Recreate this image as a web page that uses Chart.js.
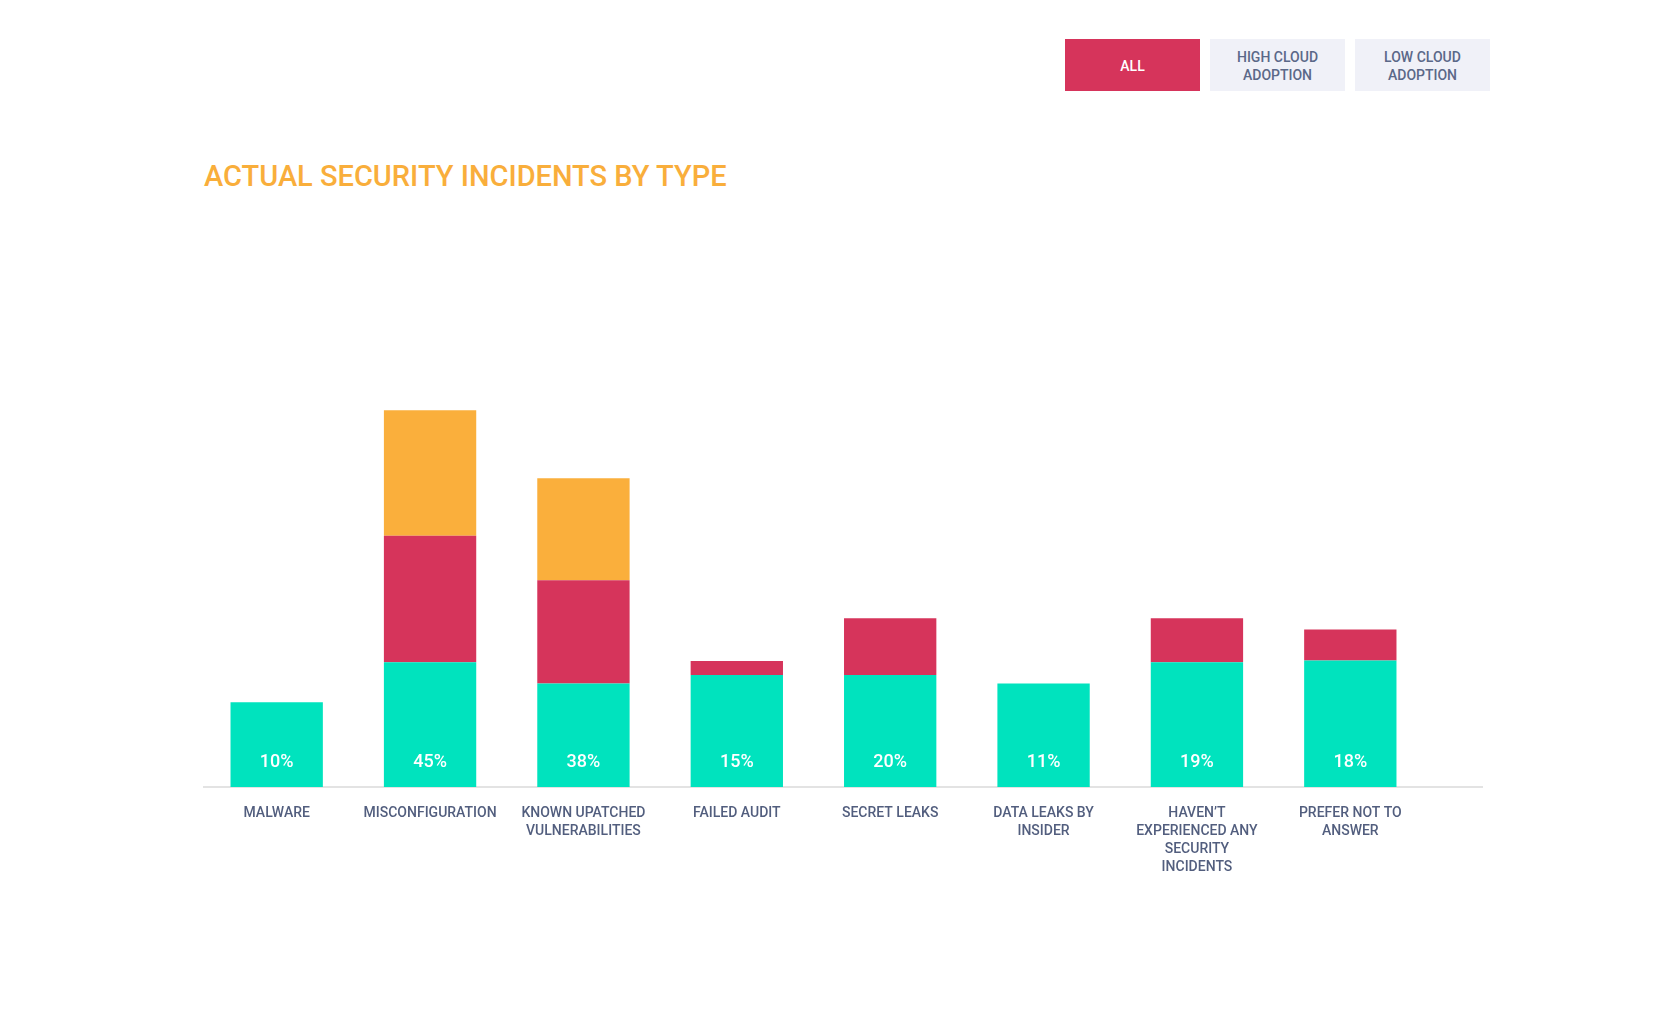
<!DOCTYPE html>
<html lang="en">
<head>
<meta charset="utf-8">
<title>Actual Security Incidents by Type</title>
<script src="https://cdn.jsdelivr.net/npm/chart.js@4.4.1/dist/chart.umd.min.js"></script>
<style>
  html, body { margin: 0; padding: 0; background: #fff; }
  body { width: 1677px; height: 1017px; position: relative; overflow: hidden; font-family: Roboto, "Noto Sans", sans-serif; }
  #chart { position: absolute; left: 0; top: 0; }
  .btn {
    position: absolute; top: 39px; width: 135px; height: 52px;
    display: flex; align-items: center; justify-content: center; text-align: center;
    font-size: 14px; font-weight: 500; line-height: 18px; padding-top: 2px; box-sizing: border-box;
    background: #f0f1f8; color: #5b6888;
  }
  .btn.active { background: #d6345b; color: #fff; }
  h1 {
    position: absolute; left: 204px; top: 162px; margin: 0;
    font-size: 29px; font-weight: 500; line-height: 29px; color: #f9ae3b;
    white-space: nowrap;
  }
</style>
</head>
<body>
<div class="btn active" style="left:1065px">ALL</div>
<div class="btn" style="left:1210px">HIGH CLOUD<br>ADOPTION</div>
<div class="btn" style="left:1355px">LOW CLOUD<br>ADOPTION</div>
<h1>ACTUAL SECURITY INCIDENTS BY TYPE</h1>
<canvas id="chart" width="1677" height="1017"></canvas>

<script>
// === Data ===
const categories = [
  'MALWARE',
  'MISCONFIGURATION',
  ['KNOWN UPATCHED', 'VULNERABILITIES'],
  'FAILED AUDIT',
  'SECRET LEAKS',
  ['DATA LEAKS BY', 'INSIDER'],
  ['HAVEN\u2019T', 'EXPERIENCED ANY', 'SECURITY', 'INCIDENTS'],
  ['PREFER NOT TO', 'ANSWER']
];
// printed percentages inside the bars
const pctLabels = [10, 45, 38, 15, 20, 11, 19, 18];
// segment heights (y scale 0-100)
const tealValues   = [21.2, 31.2, 25.9, 28.0, 28.0, 25.9, 31.2, 31.6];
const redValues    = [0, 31.6, 25.8, 3.5, 14.2, 0, 11.0, 7.8];
const orangeValues = [0, 31.4, 25.5, 0, 0, 0, 0, 0];

const TEAL = '#00e3be';
const RED = '#d6345b';
const ORANGE = '#faaf3c';

// === Plugins ===
const baseline = {
  id: 'baseline',
  beforeDatasetsDraw(chart) {
    const {ctx, chartArea, scales} = chart;
    const y = scales.y.getPixelForValue(0);
    ctx.save();
    ctx.strokeStyle = '#e3e3e3';
    ctx.lineWidth = 2;
    ctx.beginPath();
    ctx.moveTo(chartArea.left + 3, y);
    ctx.lineTo(chartArea.right + 56, y);
    ctx.stroke();
    ctx.restore();
  }
};

const valueLabels = {
  id: 'valueLabels',
  afterDatasetsDraw(chart) {
    const {ctx, scales} = chart;
    const y = scales.y.getPixelForValue(0) - 25;
    ctx.save();
    ctx.fillStyle = '#fff';
    ctx.font = '500 18px Roboto';
    ctx.textAlign = 'center';
    ctx.textBaseline = 'middle';
    chart.getDatasetMeta(0).data.forEach((bar, i) => {
      ctx.fillText(pctLabels[i] + '%', bar.x, y);
    });
    ctx.restore();
  }
};

// === Chart ===
new Chart(document.getElementById('chart'), {
  type: 'bar',
  data: {
    labels: categories,
    datasets: [
      { data: tealValues, backgroundColor: TEAL },
      { data: redValues, backgroundColor: RED },
      { data: orangeValues, backgroundColor: ORANGE }
    ]
  },
  options: {
    responsive: false,
    animation: false,
    barPercentage: 0.602,
    categoryPercentage: 1,
    layout: { padding: { left: 200, right: 250, top: 387, bottom: 130 } },
    plugins: { legend: { display: false }, tooltip: { enabled: false } },
    scales: {
      x: {
        stacked: true,
        grid: { display: false, drawTicks: false },
        border: { display: false },
        afterFit: scale => { scale.height = 100; },
        ticks: {
          padding: 17,
          color: '#525e7e',
          font: { family: 'Roboto', size: 14, weight: '500', lineHeight: 1.286 },
          maxRotation: 0,
          autoSkip: false
        }
      },
      y: { stacked: true, display: false, min: 0, max: 100 }
    }
  },
  plugins: [baseline, valueLabels]
});
</script>
</body>
</html>
